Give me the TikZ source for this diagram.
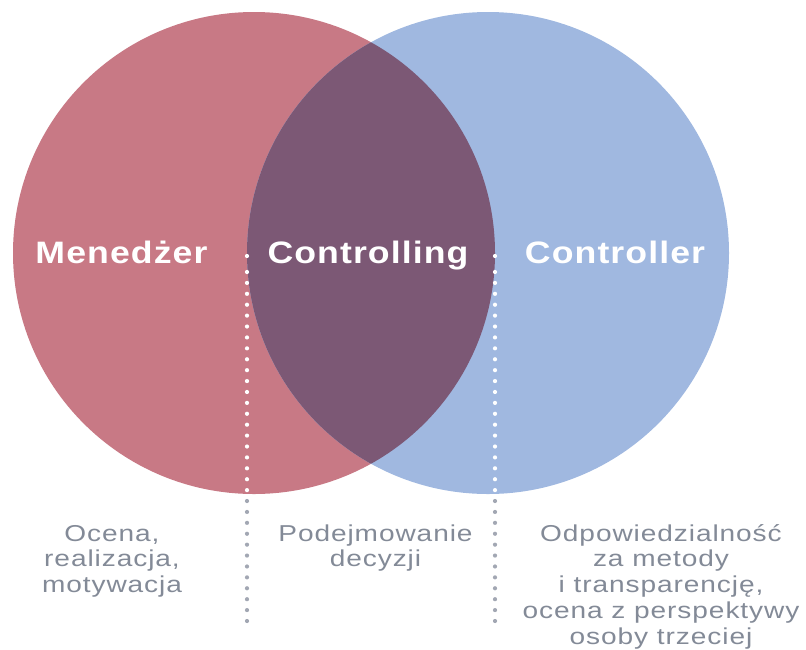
\documentclass[tikz,border=0pt]{standalone}
\usepackage{fontspec}
\newfontfamily\labelfont[FakeStretch=1.15,LetterSpace=3.5]{Liberation Sans}
\newfontfamily\subfont[FakeStretch=1.22,LetterSpace=4]{Liberation Sans}
\definecolor{pinkc}{HTML}{C87985}
\definecolor{bluec}{HTML}{A0B8E0}
\definecolor{overlapc}{HTML}{7C5875}
\definecolor{txtgray}{HTML}{838A97}
\definecolor{dotgray}{HTML}{A2A7B3}
\begin{document}
\begin{tikzpicture}[x=1pt,y=-1pt,
  biglabel/.style={text=white, font=\labelfont\bfseries\fontsize{31}{31}\selectfont, anchor=base, inner sep=0pt},
  sublabel/.style={text=txtgray, font=\subfont\fontsize{23}{25.7}\selectfont, align=center, anchor=north, inner sep=0pt},
  dotwhite/.style={fill=white, draw=none},
  dotgrey/.style={fill=dotgray, draw=none}]
\useasboundingbox (0,0) rectangle (806,649);
\coordinate (cl) at (254,253);
\coordinate (cr) at (488,253);
\fill[pinkc] (cl) circle[radius=241];
\fill[bluec] (cr) circle[radius=241];
\begin{scope}
  \clip (cl) circle[radius=241];
  \fill[overlapc] (cr) circle[radius=241];
\end{scope}
% dotted separators
\foreach \xx in {247,495} {
  \fill[dotwhite] (\xx,256) circle[radius=2.1];
  \foreach \k in {0,...,20} {
    \fill[dotwhite] (\xx,272+\k*10.906) circle[radius=2.1];
  }
  \foreach \k in {21,...,32} {
    \fill[dotgrey] (\xx,272+\k*10.906) circle[radius=2.1];
  }
}
% main labels
\node[biglabel] (men) at (121.5,263) {Menedżer};
\node[biglabel] (ctg) at (368,263) {Controlling};
\node[biglabel] (ctr) at (615,263) {Controller};
% sub labels
\node[sublabel] (menT) at (112,524) {\rule{0pt}{17pt}Ocena,\\realizacja,\\motywacja};
\node[sublabel] (ctgT) at (375.5,524) {\rule{0pt}{17pt}Podejmowanie\\decyzji};
\node[sublabel] (ctrT) at (661,524) {\rule{0pt}{17pt}Odpowiedzialność\\za metody\\i transparencję,\\ocena z perspektywy\\osoby trzeciej};
\end{tikzpicture}
\end{document}
